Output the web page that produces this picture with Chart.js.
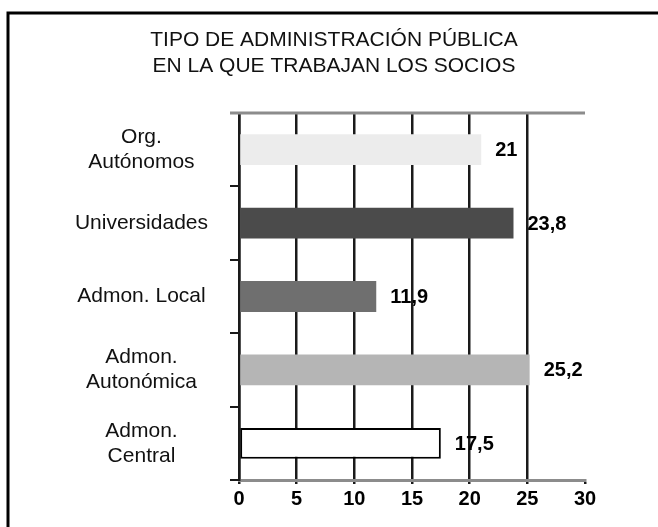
<!DOCTYPE html>
<html>
<head>
<meta charset="utf-8">
<title>Tipo de Administración Pública</title>
<script src="https://cdn.jsdelivr.net/npm/chart.js@4.4.0/dist/chart.umd.min.js"></script>
<style>
    html, body { margin: 0; padding: 0; background: #fff; }
    #chart { display: block; }
</style>
</head>
<body>
<canvas id="chart" width="658" height="527"></canvas>
<script>
// Chart data
const categories = [
    ['Org.', 'Autónomos'],
    'Universidades',
    'Admon. Local',
    ['Admon.', 'Autonómica'],
    ['Admon.', 'Central']
];
const values = [21, 23.8, 11.9, 25.2, 17.5];
const xTickValues = [0, 5, 10, 15, 20, 25, 30];
const titleLines = ['TIPO DE ADMINISTRACIÓN PÚBLICA', 'EN LA QUE TRABAJAN LOS SOCIOS'];

const barColors = ['#ececec', '#4b4b4b', '#6f6f6f', '#b5b5b5', '#ffffff'];
const barBorders = [0, 0, 0, 0, 2];
const FONT = '"Liberation Sans", Arial, Helvetica, sans-serif';

// Outer frame, title and grey top line of the plot
const framePlugin = {
    id: 'frame',
    afterDraw(chart) {
        const ctx = chart.ctx;
        const area = chart.chartArea;
        ctx.save();
        ctx.strokeStyle = '#000';
        ctx.lineWidth = 3;
        ctx.beginPath();
        ctx.moveTo(8, chart.height);
        ctx.lineTo(8, 13);
        ctx.lineTo(chart.width, 13);
        ctx.stroke();

        ctx.strokeStyle = '#8c8c8c';
        ctx.beginPath();
        ctx.moveTo(area.left - 9, area.top);
        ctx.lineTo(area.right, area.top);
        ctx.stroke();

        // title, centred on the frame
        ctx.fillStyle = '#111';
        ctx.font = '21px ' + FONT;
        ctx.textAlign = 'center';
        ctx.textBaseline = 'middle';
        titleLines.forEach((line, i) => {
            ctx.fillText(line, 334, 40 + i * 26);
        });
        ctx.restore();
    }
};

// Value labels to the right of each bar
const valueLabels = {
    id: 'valueLabels',
    afterDatasetsDraw(chart) {
        const ctx = chart.ctx;
        const meta = chart.getDatasetMeta(0);
        ctx.save();
        ctx.font = 'bold 20px ' + FONT;
        ctx.fillStyle = '#000';
        ctx.textAlign = 'left';
        ctx.textBaseline = 'middle';
        meta.data.forEach((bar, i) => {
            const txt = String(values[i]).replace('.', ',');
            ctx.fillText(txt, bar.x + 14, bar.y + 1);
        });
        ctx.restore();
    }
};

new Chart(document.getElementById('chart'), {
    type: 'bar',
    data: {
        labels: categories,
        datasets: [{
            data: values,
            backgroundColor: barColors,
            borderColor: '#000',
            borderWidth: barBorders,
            borderSkipped: false,
            categoryPercentage: 1,
            barPercentage: 0.42
        }]
    },
    options: {
        indexAxis: 'y',
        responsive: false,
        animation: false,
        layout: {
            padding: { left: 20, right: 73, top: 113, bottom: 0 }
        },
        plugins: {
            legend: { display: false },
            tooltip: { enabled: false },
            title: { display: false }
        },
        scales: {
            x: {
                min: 0,
                max: 30,
                afterBuildTicks: scale => {
                    scale.ticks = xTickValues.map(v => ({ value: v }));
                },
                afterFit: scale => { scale.height = 47; },
                border: { color: '#8c8c8c', width: 3 },
                grid: {
                    color: ctx => (ctx.tick && ctx.tick.value === 30 ? 'rgba(0,0,0,0)' : '#1a1a1a'),
                    lineWidth: 2.5,
                    tickLength: 4,
                    tickColor: '#1a1a1a'
                },
                ticks: {
                    color: '#000',
                    padding: 3,
                    font: { family: FONT, size: 20, weight: 'bold', lineHeight: 1.2 }
                }
            },
            y: {
                afterFit: scale => { scale.width = 219; },
                border: { color: '#1a1a1a', width: 2.5 },
                grid: {
                    drawOnChartArea: false,
                    tickLength: 9,
                    lineWidth: 2,
                    color: '#1a1a1a'
                },
                ticks: {
                    color: '#111',
                    crossAlign: 'center',
                    padding: 22,
                    font: { family: FONT, size: 21, lineHeight: 25 / 21 }
                }
            }
        }
    },
    plugins: [framePlugin, valueLabels]
});
</script>
</body>
</html>
